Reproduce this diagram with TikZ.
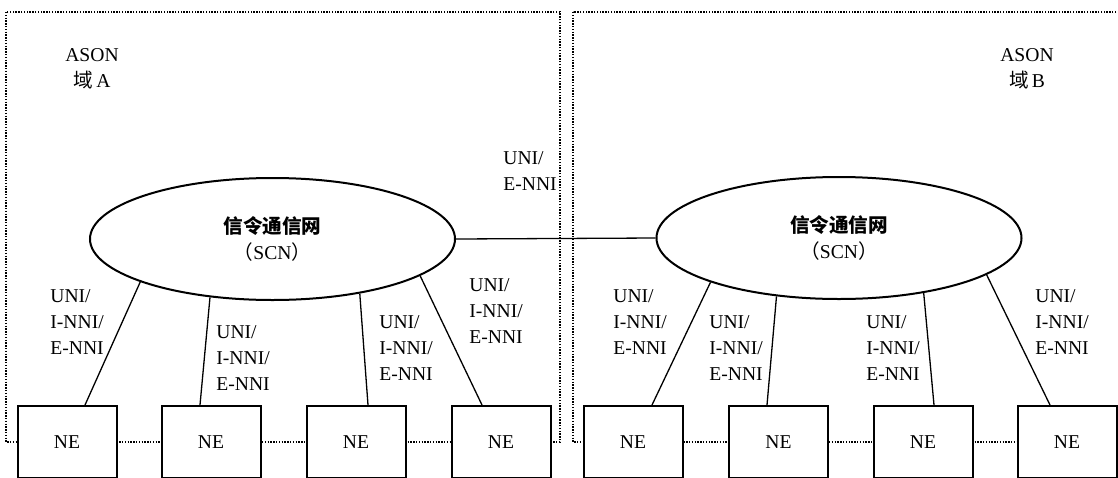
\documentclass[tikz,border=0pt]{standalone}
\usepackage{fontspec}
\setmainfont{Liberation Serif}
\newfontfamily\cjk{Noto Sans CJK SC}
\usetikzlibrary{shapes.geometric}

\begin{document}
\begin{tikzpicture}[x=0.5pt, y=-0.5pt, font=\fontsize{9.8}{13}\selectfont,
  ne/.style={draw, line width=1pt, fill=white, minimum width=49.5pt, minimum height=36pt, inner sep=0pt},
  scn/.style={draw, ellipse, line width=1pt, minimum width=182.5pt, minimum height=61pt, inner sep=0pt, align=center},
  lab/.style={align=left, anchor=west, inner sep=0pt},
  link/.style={line width=0.65pt},
  zone/.style={line width=0.7pt, dash pattern=on 0.7pt off 0.7pt}]
\useasboundingbox (0,0) rectangle (1118,477);
\clip (0,0) rectangle (1118,477);
% the two ASON domains
\draw[zone] (6,12) rectangle (560,442);
\draw[zone] (573,12) rectangle (1130,442);
\node[align=center, inner sep=0pt] (domA) at (92,69) {ASON\\{\cjk 域}\,A};
\node[align=center, inner sep=0pt] (domB) at (1027,69) {ASON\\{\cjk 域}\,B};
% signalling networks
\node[scn] (scnA) at (272.5,239) {{\cjk\bfseries 信令通信网}\\{\cjk （}SCN{\cjk ）}};
\node[scn] (scnB) at (839,238) {{\cjk\bfseries 信令通信网}\\{\cjk （}SCN{\cjk ）}};
\draw[link] (scnA.east) -- (scnB.west);
\node[lab] (ext) at (503,171) {UNI/\\E-NNI};
% network elements
\node[ne] (ne1) at (67,442) {NE};
\node[ne] (ne2) at (211,442) {NE};
\node[ne] (ne3) at (356,442) {NE};
\node[ne] (ne4) at (501,442) {NE};
\node[ne] (ne5) at (633,442) {NE};
\node[ne] (ne6) at (778.5,442) {NE};
\node[ne] (ne7) at (923,442) {NE};
\node[ne] (ne8) at (1067,442) {NE};
% interfaces
\draw[link] (scnA.198.6) -- ([xshift=9pt]ne1.north);
\draw[link] (scnA.223.3) -- ([xshift=-5.5pt]ne2.north);
\draw[link] (scnA.328) -- ([xshift=6pt]ne3.north);
\draw[link] (scnA.346.5) -- ([xshift=-9.5pt]ne4.north);
\draw[link] (scnB.199) -- ([xshift=9.5pt]ne5.north);
\draw[link] (scnB.223.6) -- ([xshift=-5.75pt]ne6.north);
\draw[link] (scnB.327.4) -- ([xshift=5.5pt]ne7.north);
\draw[link] (scnB.346.2) -- ([xshift=-8.5pt]ne8.north);
\node[lab] (if1) at (50,322) {UNI/\\I-NNI/\\E-NNI};
\node[lab] (if2) at (216,358) {UNI/\\I-NNI/\\E-NNI};
\node[lab] (if3) at (379,348) {UNI/\\I-NNI/\\E-NNI};
\node[lab] (if4) at (469,311) {UNI/\\I-NNI/\\E-NNI};
\node[lab] (if5) at (613,322) {UNI/\\I-NNI/\\E-NNI};
\node[lab] (if6) at (709,348) {UNI/\\I-NNI/\\E-NNI};
\node[lab] (if7) at (866,348) {UNI/\\I-NNI/\\E-NNI};
\node[lab] (if8) at (1035,322) {UNI/\\I-NNI/\\E-NNI};
\end{tikzpicture}
\end{document}
